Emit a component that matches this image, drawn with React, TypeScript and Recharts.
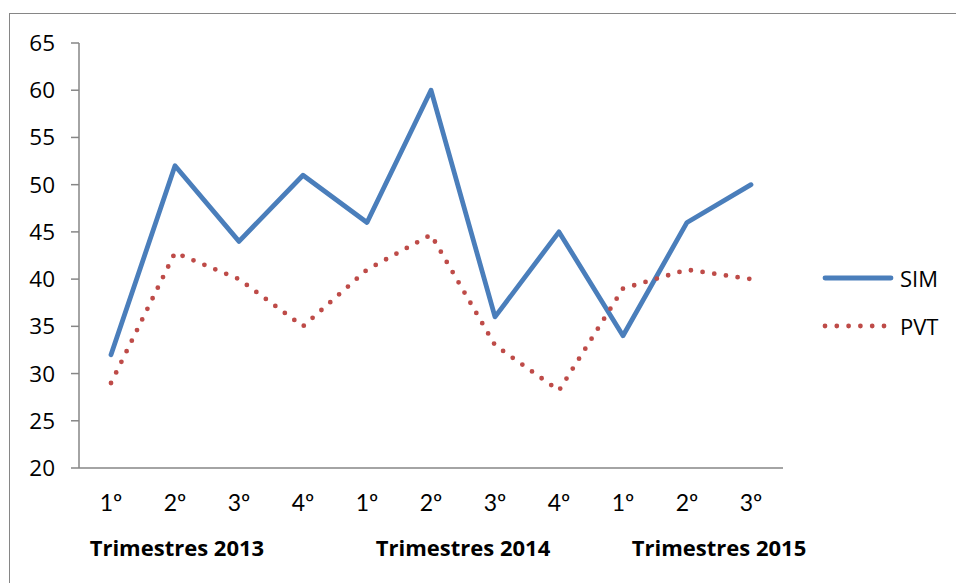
import React from "react";
import { LineChart, Line, XAxis, YAxis, Legend } from "recharts";

const categories = ["1º", "2º", "3º", "4º", "1º", "2º", "3º", "4º", "1º", "2º", "3º"];
const simValues = [32, 52, 44, 51, 46, 60, 36, 45, 34, 46, 50];
const pvtValues = [29, 42.8, 40, 35, 41, 44.7, 33, 28.2, 39, 41, 40];
const yTicks = [20, 25, 30, 35, 40, 45, 50, 55, 60, 65];
const seriesNames = ["SIM", "PVT"];
const groupLabels = ["Trimestres 2013", "Trimestres 2014", "Trimestres 2015"];
const groupTickPositions = [1.53, 6.0, 10.0];

const FONT = "'Open Sans', sans-serif";
const CAT_FONT = "Lato, 'Open Sans', sans-serif";
const AXIS_COLOR = "#868686";
const SIM_COLOR = "#4A7EBB";
const PVT_COLOR = "#BE4B48";

const data = categories.map((c, i) => ({
  x: i + 0.5,
  cat: c,
  SIM: simValues[i],
  PVT: pvtValues[i],
}));

const boundaryTicks = categories.map((_, i) => i).concat([categories.length]);
const centerTicks = categories.map((_, i) => i + 0.5);

const LegendContent = (props: any) => {
  const payload = [...(props.payload || [])].sort(
    (a: any, b: any) => seriesNames.indexOf(a.value) - seriesNames.indexOf(b.value)
  );
  return (
    <svg width={139} height={100} style={{ display: "block" }}>
      {payload.map((entry: any, i: number) => {
        const cy = 24 + i * 48;
        const dashed = entry.value === "PVT";
        return (
          <g key={entry.value}>
            <line
              x1={10}
              x2={dashed ? 70 : 76}
              y1={cy}
              y2={cy}
              stroke={entry.color}
              strokeWidth={4.8}
              strokeLinecap="round"
              strokeDasharray={dashed ? "0 11.8" : undefined}
            />
            <text
              x={85}
              y={cy}
              dominantBaseline="central"
              fontFamily={FONT}
              fontSize={22}
              fill="#000"
            >
              {entry.value}
            </text>
          </g>
        );
      })}
    </svg>
  );
};

export default function App() {
  return (
    <div style={{ position: "absolute", left: 0, top: 0, width: 956, height: 583, background: "#fff", overflow: "hidden" }}>
      <div
        style={{
          position: "absolute",
          left: 9,
          top: 13,
          width: 947,
          height: 570,
          boxSizing: "border-box",
          borderTop: `1.5px solid ${AXIS_COLOR}`,
          borderLeft: `1.5px solid ${AXIS_COLOR}`,
        }}
      />
      <div style={{ position: "absolute", left: 0, top: 0 }}>
        <LineChart
          width={956}
          height={583}
          data={data}
          margin={{ top: 43, right: 173, bottom: 0, left: 19 }}
        >
          <XAxis
            xAxisId="a"
            type="number"
            dataKey="x"
            domain={[0, categories.length]}
            ticks={boundaryTicks}
            tick={false}
            tickSize={8}
            height={10}
            axisLine={{ stroke: AXIS_COLOR, strokeWidth: 1.5 }}
            tickLine={{ stroke: AXIS_COLOR, strokeWidth: 1.5 }}
            allowDataOverflow
          />
          <XAxis
            xAxisId="b"
            type="number"
            dataKey="x"
            domain={[0, categories.length]}
            ticks={centerTicks}
            tickFormatter={(v: number) => categories[Math.round(v - 0.5)]}
            axisLine={false}
            tickLine={false}
            tickSize={0}
            tickMargin={17}
            height={40}
            tick={{ fontFamily: CAT_FONT, fontSize: 23, fill: "#000" }}
            interval={0}
            allowDataOverflow
          />
          <XAxis
            xAxisId="c"
            type="number"
            dataKey="x"
            domain={[0, categories.length]}
            ticks={groupTickPositions}
            tickFormatter={(v: number) => groupLabels[groupTickPositions.indexOf(v)]}
            axisLine={false}
            tickLine={false}
            tickSize={0}
            tickMargin={22}
            height={65}
            tick={{ fontFamily: FONT, fontSize: 22, fontWeight: 700, fill: "#000" }}
            interval={0}
            allowDataOverflow
          />
          <YAxis
            type="number"
            domain={[20, 65]}
            ticks={yTicks}
            width={60}
            tickSize={8}
            tickMargin={16}
            interval={0}
            axisLine={{ stroke: AXIS_COLOR, strokeWidth: 1.5 }}
            tickLine={{ stroke: AXIS_COLOR, strokeWidth: 1.5 }}
            tick={{ fontFamily: FONT, fontSize: 22.5, fill: "#000" }}
          />
          <Legend
            layout="vertical"
            align="center"
            verticalAlign="middle"
            wrapperStyle={{ left: 815, top: 254, width: 139 }}
            content={<LegendContent />}
          />
          <Line
            xAxisId="a"
            type="linear"
            dataKey="SIM"
            stroke={SIM_COLOR}
            strokeWidth={4.8}
            strokeLinejoin="round"
            strokeLinecap="round"
            dot={false}
            activeDot={false}
            isAnimationActive={false}
          />
          <Line
            xAxisId="a"
            type="linear"
            dataKey="PVT"
            stroke={PVT_COLOR}
            strokeWidth={4.8}
            strokeDasharray="0 11.8"
            strokeLinecap="round"
            dot={false}
            activeDot={false}
            isAnimationActive={false}
          />
        </LineChart>
      </div>
    </div>
  );
}
